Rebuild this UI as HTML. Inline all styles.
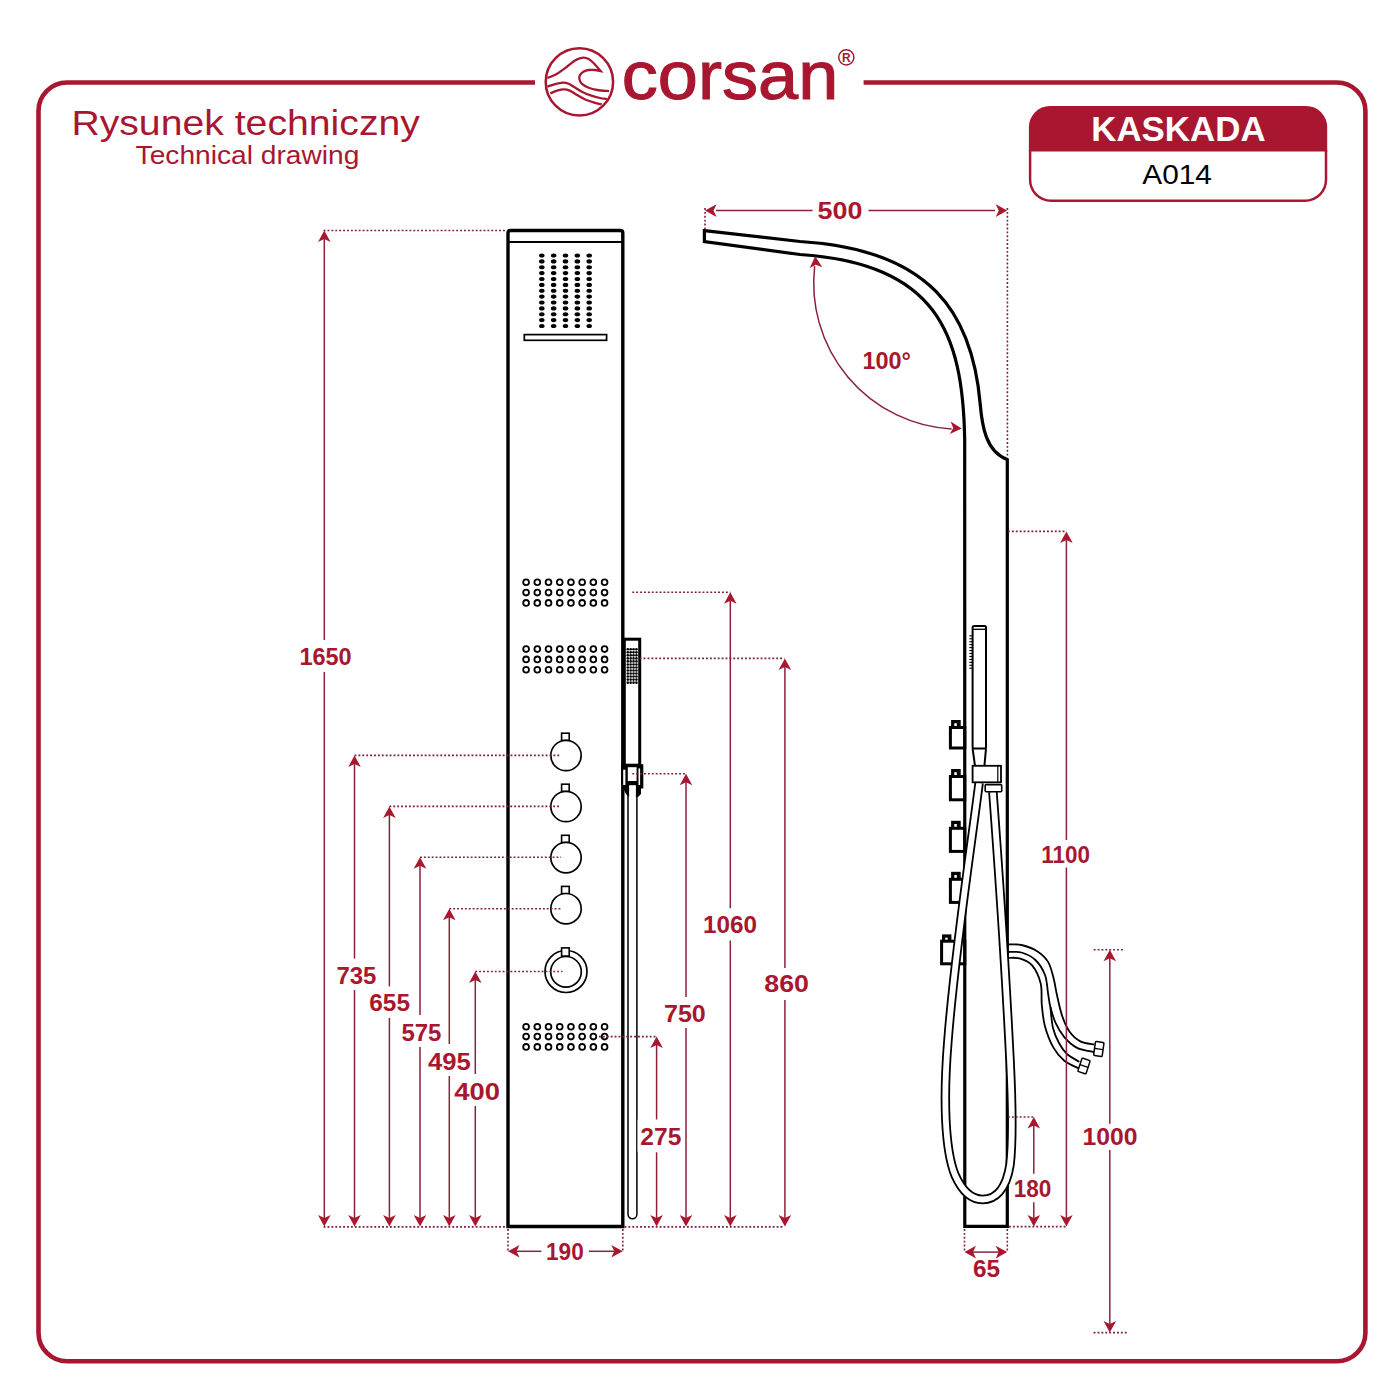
<!DOCTYPE html>
<html><head><meta charset="utf-8"><title>Corsan Kaskada A014</title>
<style>html,body{margin:0;padding:0;background:#fff;width:1400px;height:1400px;overflow:hidden;position:relative;font-family:"Liberation Sans",sans-serif}</style>
</head><body>
<svg width="1400" height="1400" viewBox="0 0 1400 1400" style="position:absolute;left:0;top:0">
<rect width="1400" height="1400" fill="#fff"/>
<path d="M535,82.50 L67.00,82.50 A28.50,28.50 0 0 0 38.50,111.00 L38.50,1332.70 A28.50,28.50 0 0 0 67.00,1361.20 L1336.90,1361.20 A28.50,28.50 0 0 0 1365.40,1332.70 L1365.40,111.00 A28.50,28.50 0 0 0 1336.90,82.50 L863.6,82.50" fill="none" stroke="#A8172F" stroke-width="4.6"/>
<circle cx="579.4" cy="81.9" r="33.7" fill="none" stroke="#A8172F" stroke-width="2.5"/>
<path d="M547.40,78.00 C549.02,77.28 554.05,75.42 557.10,73.70 C560.15,71.98 563.22,69.55 565.70,67.70 C568.18,65.85 570.10,63.98 572.00,62.60 C573.90,61.22 575.20,60.22 577.10,59.40 C579.00,58.58 581.48,57.75 583.40,57.70 C585.32,57.65 586.78,58.10 588.60,59.10 C590.42,60.10 592.30,61.70 594.30,63.70 C596.30,65.70 599.55,69.87 600.60,71.10 L600.60,71.10 C599.65,70.92 596.90,70.18 594.90,70.00 C592.90,69.82 590.52,69.72 588.60,70.00 C586.68,70.28 584.83,70.85 583.40,71.70 C581.97,72.55 580.67,73.87 580.00,75.10 C579.33,76.33 579.12,77.67 579.40,79.10 C579.68,80.53 580.17,82.27 581.70,83.70 C583.23,85.13 586.03,86.65 588.60,87.70 C591.17,88.75 593.68,89.43 597.10,90.00 C600.52,90.57 607.10,90.92 609.10,91.10" fill="none" stroke="#A8172F" stroke-width="2.3" stroke-linejoin="miter" stroke-miterlimit="10"/>
<path d="M547.40,86.60 C548.55,86.22 551.72,84.97 554.30,84.30 C556.88,83.63 560.52,82.70 562.90,82.60 C565.28,82.50 566.70,82.95 568.60,83.70 C570.50,84.45 571.92,85.67 574.30,87.10 C576.68,88.53 580.05,90.87 582.90,92.30 C585.75,93.73 588.55,94.75 591.40,95.70 C594.25,96.65 597.42,97.43 600.00,98.00 C602.58,98.57 605.75,98.92 606.90,99.10" fill="none" stroke="#A8172F" stroke-width="2.3"/>
<path d="M550.30,93.40 C551.43,92.93 554.82,91.27 557.10,90.60 C559.38,89.93 561.90,89.40 564.00,89.40 C566.10,89.40 567.52,89.65 569.70,90.60 C571.88,91.55 574.43,93.58 577.10,95.10 C579.77,96.62 582.83,98.45 585.70,99.70 C588.57,100.95 591.63,101.83 594.30,102.60 C596.97,103.37 600.47,104.02 601.70,104.30" fill="none" stroke="#A8172F" stroke-width="2.3"/>
<text x="621.8" y="98.8" font-family="Liberation Sans" font-size="68.5" fill="#A8172F" stroke="#A8172F" stroke-width="1.1" textLength="216.5" lengthAdjust="spacingAndGlyphs">corsan</text>
<circle cx="846.3" cy="57.3" r="7.6" fill="none" stroke="#A8172F" stroke-width="1.5"/>
<text x="846.4" y="61.7" font-family="Liberation Sans" font-weight="bold" font-size="12" fill="#A8172F" text-anchor="middle">R</text>
<text x="71.40" y="135.30" font-family="Liberation Sans" font-weight="normal" font-size="35.5" fill="#A8172F" textLength="348.50" lengthAdjust="spacingAndGlyphs">Rysunek techniczny</text>
<text x="135.60" y="164.30" font-family="Liberation Sans" font-weight="normal" font-size="25.5" fill="#A8172F" textLength="223.70" lengthAdjust="spacingAndGlyphs">Technical drawing</text>
<path d="M1028.90,151.6 L1028.90,127.00 A21.00,21.00 0 0 1 1049.90,106.00 L1306.20,106.00 A21.00,21.00 0 0 1 1327.20,127.00 L1327.20,151.6 Z" fill="#A8172F"/>
<path d="M1030.10,150 L1030.10,179.70 A21.00,21.00 0 0 0 1051.10,200.70 L1305.00,200.70 A21.00,21.00 0 0 0 1326.00,179.70 L1326.00,150" fill="none" stroke="#A8172F" stroke-width="2.5"/>
<text x="1091.20" y="141.30" font-family="Liberation Sans" font-weight="bold" font-size="34.5" fill="#fff" textLength="174.40" lengthAdjust="spacingAndGlyphs">KASKADA</text>
<text x="1142.30" y="184.10" font-family="Liberation Sans" font-weight="normal" font-size="28" fill="#000" textLength="69.60" lengthAdjust="spacingAndGlyphs">A014</text>
<path d="M508,1226.5 L508,233 Q508,230.5 510.5,230.5 L620.3,230.5 Q622.8,230.5 622.8,233 L622.8,1226.5 Z" fill="none" stroke="#000" stroke-width="3.4"/>
<line x1="508" y1="242" x2="622.8" y2="242" stroke="#000" stroke-width="2.2"/>
<ellipse cx="541.80" cy="255.50" rx="2.75" ry="2.1" fill="#000"/>
<ellipse cx="541.80" cy="261.38" rx="2.75" ry="2.1" fill="#000"/>
<ellipse cx="541.80" cy="267.25" rx="2.75" ry="2.1" fill="#000"/>
<ellipse cx="541.80" cy="273.12" rx="2.75" ry="2.1" fill="#000"/>
<ellipse cx="541.80" cy="279.00" rx="2.75" ry="2.1" fill="#000"/>
<ellipse cx="541.80" cy="284.88" rx="2.75" ry="2.1" fill="#000"/>
<ellipse cx="541.80" cy="290.75" rx="2.75" ry="2.1" fill="#000"/>
<ellipse cx="541.80" cy="296.62" rx="2.75" ry="2.1" fill="#000"/>
<ellipse cx="541.80" cy="302.50" rx="2.75" ry="2.1" fill="#000"/>
<ellipse cx="541.80" cy="308.38" rx="2.75" ry="2.1" fill="#000"/>
<ellipse cx="541.80" cy="314.25" rx="2.75" ry="2.1" fill="#000"/>
<ellipse cx="541.80" cy="320.12" rx="2.75" ry="2.1" fill="#000"/>
<ellipse cx="541.80" cy="326.00" rx="2.75" ry="2.1" fill="#000"/>
<ellipse cx="553.65" cy="255.50" rx="2.75" ry="2.1" fill="#000"/>
<ellipse cx="553.65" cy="261.38" rx="2.75" ry="2.1" fill="#000"/>
<ellipse cx="553.65" cy="267.25" rx="2.75" ry="2.1" fill="#000"/>
<ellipse cx="553.65" cy="273.12" rx="2.75" ry="2.1" fill="#000"/>
<ellipse cx="553.65" cy="279.00" rx="2.75" ry="2.1" fill="#000"/>
<ellipse cx="553.65" cy="284.88" rx="2.75" ry="2.1" fill="#000"/>
<ellipse cx="553.65" cy="290.75" rx="2.75" ry="2.1" fill="#000"/>
<ellipse cx="553.65" cy="296.62" rx="2.75" ry="2.1" fill="#000"/>
<ellipse cx="553.65" cy="302.50" rx="2.75" ry="2.1" fill="#000"/>
<ellipse cx="553.65" cy="308.38" rx="2.75" ry="2.1" fill="#000"/>
<ellipse cx="553.65" cy="314.25" rx="2.75" ry="2.1" fill="#000"/>
<ellipse cx="553.65" cy="320.12" rx="2.75" ry="2.1" fill="#000"/>
<ellipse cx="553.65" cy="326.00" rx="2.75" ry="2.1" fill="#000"/>
<ellipse cx="565.50" cy="255.50" rx="2.75" ry="2.1" fill="#000"/>
<ellipse cx="565.50" cy="261.38" rx="2.75" ry="2.1" fill="#000"/>
<ellipse cx="565.50" cy="267.25" rx="2.75" ry="2.1" fill="#000"/>
<ellipse cx="565.50" cy="273.12" rx="2.75" ry="2.1" fill="#000"/>
<ellipse cx="565.50" cy="279.00" rx="2.75" ry="2.1" fill="#000"/>
<ellipse cx="565.50" cy="284.88" rx="2.75" ry="2.1" fill="#000"/>
<ellipse cx="565.50" cy="290.75" rx="2.75" ry="2.1" fill="#000"/>
<ellipse cx="565.50" cy="296.62" rx="2.75" ry="2.1" fill="#000"/>
<ellipse cx="565.50" cy="302.50" rx="2.75" ry="2.1" fill="#000"/>
<ellipse cx="565.50" cy="308.38" rx="2.75" ry="2.1" fill="#000"/>
<ellipse cx="565.50" cy="314.25" rx="2.75" ry="2.1" fill="#000"/>
<ellipse cx="565.50" cy="320.12" rx="2.75" ry="2.1" fill="#000"/>
<ellipse cx="565.50" cy="326.00" rx="2.75" ry="2.1" fill="#000"/>
<ellipse cx="577.35" cy="255.50" rx="2.75" ry="2.1" fill="#000"/>
<ellipse cx="577.35" cy="261.38" rx="2.75" ry="2.1" fill="#000"/>
<ellipse cx="577.35" cy="267.25" rx="2.75" ry="2.1" fill="#000"/>
<ellipse cx="577.35" cy="273.12" rx="2.75" ry="2.1" fill="#000"/>
<ellipse cx="577.35" cy="279.00" rx="2.75" ry="2.1" fill="#000"/>
<ellipse cx="577.35" cy="284.88" rx="2.75" ry="2.1" fill="#000"/>
<ellipse cx="577.35" cy="290.75" rx="2.75" ry="2.1" fill="#000"/>
<ellipse cx="577.35" cy="296.62" rx="2.75" ry="2.1" fill="#000"/>
<ellipse cx="577.35" cy="302.50" rx="2.75" ry="2.1" fill="#000"/>
<ellipse cx="577.35" cy="308.38" rx="2.75" ry="2.1" fill="#000"/>
<ellipse cx="577.35" cy="314.25" rx="2.75" ry="2.1" fill="#000"/>
<ellipse cx="577.35" cy="320.12" rx="2.75" ry="2.1" fill="#000"/>
<ellipse cx="577.35" cy="326.00" rx="2.75" ry="2.1" fill="#000"/>
<ellipse cx="589.20" cy="255.50" rx="2.75" ry="2.1" fill="#000"/>
<ellipse cx="589.20" cy="261.38" rx="2.75" ry="2.1" fill="#000"/>
<ellipse cx="589.20" cy="267.25" rx="2.75" ry="2.1" fill="#000"/>
<ellipse cx="589.20" cy="273.12" rx="2.75" ry="2.1" fill="#000"/>
<ellipse cx="589.20" cy="279.00" rx="2.75" ry="2.1" fill="#000"/>
<ellipse cx="589.20" cy="284.88" rx="2.75" ry="2.1" fill="#000"/>
<ellipse cx="589.20" cy="290.75" rx="2.75" ry="2.1" fill="#000"/>
<ellipse cx="589.20" cy="296.62" rx="2.75" ry="2.1" fill="#000"/>
<ellipse cx="589.20" cy="302.50" rx="2.75" ry="2.1" fill="#000"/>
<ellipse cx="589.20" cy="308.38" rx="2.75" ry="2.1" fill="#000"/>
<ellipse cx="589.20" cy="314.25" rx="2.75" ry="2.1" fill="#000"/>
<ellipse cx="589.20" cy="320.12" rx="2.75" ry="2.1" fill="#000"/>
<ellipse cx="589.20" cy="326.00" rx="2.75" ry="2.1" fill="#000"/>
<rect x="524.3" y="334.6" width="82.3" height="5.7" fill="none" stroke="#000" stroke-width="1.7"/>
<circle cx="526.10" cy="582.30" r="2.9" fill="none" stroke="#000" stroke-width="1.8"/>
<circle cx="537.31" cy="582.30" r="2.9" fill="none" stroke="#000" stroke-width="1.8"/>
<circle cx="548.52" cy="582.30" r="2.9" fill="none" stroke="#000" stroke-width="1.8"/>
<circle cx="559.73" cy="582.30" r="2.9" fill="none" stroke="#000" stroke-width="1.8"/>
<circle cx="570.94" cy="582.30" r="2.9" fill="none" stroke="#000" stroke-width="1.8"/>
<circle cx="582.15" cy="582.30" r="2.9" fill="none" stroke="#000" stroke-width="1.8"/>
<circle cx="593.36" cy="582.30" r="2.9" fill="none" stroke="#000" stroke-width="1.8"/>
<circle cx="604.57" cy="582.30" r="2.9" fill="none" stroke="#000" stroke-width="1.8"/>
<circle cx="526.10" cy="592.60" r="2.9" fill="none" stroke="#000" stroke-width="1.8"/>
<circle cx="537.31" cy="592.60" r="2.9" fill="none" stroke="#000" stroke-width="1.8"/>
<circle cx="548.52" cy="592.60" r="2.9" fill="none" stroke="#000" stroke-width="1.8"/>
<circle cx="559.73" cy="592.60" r="2.9" fill="none" stroke="#000" stroke-width="1.8"/>
<circle cx="570.94" cy="592.60" r="2.9" fill="none" stroke="#000" stroke-width="1.8"/>
<circle cx="582.15" cy="592.60" r="2.9" fill="none" stroke="#000" stroke-width="1.8"/>
<circle cx="593.36" cy="592.60" r="2.9" fill="none" stroke="#000" stroke-width="1.8"/>
<circle cx="604.57" cy="592.60" r="2.9" fill="none" stroke="#000" stroke-width="1.8"/>
<circle cx="526.10" cy="602.90" r="2.9" fill="none" stroke="#000" stroke-width="1.8"/>
<circle cx="537.31" cy="602.90" r="2.9" fill="none" stroke="#000" stroke-width="1.8"/>
<circle cx="548.52" cy="602.90" r="2.9" fill="none" stroke="#000" stroke-width="1.8"/>
<circle cx="559.73" cy="602.90" r="2.9" fill="none" stroke="#000" stroke-width="1.8"/>
<circle cx="570.94" cy="602.90" r="2.9" fill="none" stroke="#000" stroke-width="1.8"/>
<circle cx="582.15" cy="602.90" r="2.9" fill="none" stroke="#000" stroke-width="1.8"/>
<circle cx="593.36" cy="602.90" r="2.9" fill="none" stroke="#000" stroke-width="1.8"/>
<circle cx="604.57" cy="602.90" r="2.9" fill="none" stroke="#000" stroke-width="1.8"/>
<circle cx="526.10" cy="649.10" r="2.9" fill="none" stroke="#000" stroke-width="1.8"/>
<circle cx="537.31" cy="649.10" r="2.9" fill="none" stroke="#000" stroke-width="1.8"/>
<circle cx="548.52" cy="649.10" r="2.9" fill="none" stroke="#000" stroke-width="1.8"/>
<circle cx="559.73" cy="649.10" r="2.9" fill="none" stroke="#000" stroke-width="1.8"/>
<circle cx="570.94" cy="649.10" r="2.9" fill="none" stroke="#000" stroke-width="1.8"/>
<circle cx="582.15" cy="649.10" r="2.9" fill="none" stroke="#000" stroke-width="1.8"/>
<circle cx="593.36" cy="649.10" r="2.9" fill="none" stroke="#000" stroke-width="1.8"/>
<circle cx="604.57" cy="649.10" r="2.9" fill="none" stroke="#000" stroke-width="1.8"/>
<circle cx="526.10" cy="659.40" r="2.9" fill="none" stroke="#000" stroke-width="1.8"/>
<circle cx="537.31" cy="659.40" r="2.9" fill="none" stroke="#000" stroke-width="1.8"/>
<circle cx="548.52" cy="659.40" r="2.9" fill="none" stroke="#000" stroke-width="1.8"/>
<circle cx="559.73" cy="659.40" r="2.9" fill="none" stroke="#000" stroke-width="1.8"/>
<circle cx="570.94" cy="659.40" r="2.9" fill="none" stroke="#000" stroke-width="1.8"/>
<circle cx="582.15" cy="659.40" r="2.9" fill="none" stroke="#000" stroke-width="1.8"/>
<circle cx="593.36" cy="659.40" r="2.9" fill="none" stroke="#000" stroke-width="1.8"/>
<circle cx="604.57" cy="659.40" r="2.9" fill="none" stroke="#000" stroke-width="1.8"/>
<circle cx="526.10" cy="669.70" r="2.9" fill="none" stroke="#000" stroke-width="1.8"/>
<circle cx="537.31" cy="669.70" r="2.9" fill="none" stroke="#000" stroke-width="1.8"/>
<circle cx="548.52" cy="669.70" r="2.9" fill="none" stroke="#000" stroke-width="1.8"/>
<circle cx="559.73" cy="669.70" r="2.9" fill="none" stroke="#000" stroke-width="1.8"/>
<circle cx="570.94" cy="669.70" r="2.9" fill="none" stroke="#000" stroke-width="1.8"/>
<circle cx="582.15" cy="669.70" r="2.9" fill="none" stroke="#000" stroke-width="1.8"/>
<circle cx="593.36" cy="669.70" r="2.9" fill="none" stroke="#000" stroke-width="1.8"/>
<circle cx="604.57" cy="669.70" r="2.9" fill="none" stroke="#000" stroke-width="1.8"/>
<circle cx="526.10" cy="1026.70" r="2.9" fill="none" stroke="#000" stroke-width="1.8"/>
<circle cx="537.31" cy="1026.70" r="2.9" fill="none" stroke="#000" stroke-width="1.8"/>
<circle cx="548.52" cy="1026.70" r="2.9" fill="none" stroke="#000" stroke-width="1.8"/>
<circle cx="559.73" cy="1026.70" r="2.9" fill="none" stroke="#000" stroke-width="1.8"/>
<circle cx="570.94" cy="1026.70" r="2.9" fill="none" stroke="#000" stroke-width="1.8"/>
<circle cx="582.15" cy="1026.70" r="2.9" fill="none" stroke="#000" stroke-width="1.8"/>
<circle cx="593.36" cy="1026.70" r="2.9" fill="none" stroke="#000" stroke-width="1.8"/>
<circle cx="604.57" cy="1026.70" r="2.9" fill="none" stroke="#000" stroke-width="1.8"/>
<circle cx="526.10" cy="1036.60" r="2.9" fill="none" stroke="#000" stroke-width="1.8"/>
<circle cx="537.31" cy="1036.60" r="2.9" fill="none" stroke="#000" stroke-width="1.8"/>
<circle cx="548.52" cy="1036.60" r="2.9" fill="none" stroke="#000" stroke-width="1.8"/>
<circle cx="559.73" cy="1036.60" r="2.9" fill="none" stroke="#000" stroke-width="1.8"/>
<circle cx="570.94" cy="1036.60" r="2.9" fill="none" stroke="#000" stroke-width="1.8"/>
<circle cx="582.15" cy="1036.60" r="2.9" fill="none" stroke="#000" stroke-width="1.8"/>
<circle cx="593.36" cy="1036.60" r="2.9" fill="none" stroke="#000" stroke-width="1.8"/>
<circle cx="604.57" cy="1036.60" r="2.9" fill="none" stroke="#000" stroke-width="1.8"/>
<circle cx="526.10" cy="1046.90" r="2.9" fill="none" stroke="#000" stroke-width="1.8"/>
<circle cx="537.31" cy="1046.90" r="2.9" fill="none" stroke="#000" stroke-width="1.8"/>
<circle cx="548.52" cy="1046.90" r="2.9" fill="none" stroke="#000" stroke-width="1.8"/>
<circle cx="559.73" cy="1046.90" r="2.9" fill="none" stroke="#000" stroke-width="1.8"/>
<circle cx="570.94" cy="1046.90" r="2.9" fill="none" stroke="#000" stroke-width="1.8"/>
<circle cx="582.15" cy="1046.90" r="2.9" fill="none" stroke="#000" stroke-width="1.8"/>
<circle cx="593.36" cy="1046.90" r="2.9" fill="none" stroke="#000" stroke-width="1.8"/>
<circle cx="604.57" cy="1046.90" r="2.9" fill="none" stroke="#000" stroke-width="1.8"/>
<rect x="561.6" y="733.20" width="7.6" height="7.3" fill="#fff" stroke="#000" stroke-width="1.6"/>
<circle cx="566" cy="755.50" r="15.2" fill="#fff" stroke="#000" stroke-width="1.7"/>
<rect x="561.6" y="784.20" width="7.6" height="7.3" fill="#fff" stroke="#000" stroke-width="1.6"/>
<circle cx="566" cy="806.50" r="15.2" fill="#fff" stroke="#000" stroke-width="1.7"/>
<rect x="561.6" y="835.30" width="7.6" height="7.3" fill="#fff" stroke="#000" stroke-width="1.6"/>
<circle cx="566" cy="857.60" r="15.2" fill="#fff" stroke="#000" stroke-width="1.7"/>
<rect x="561.6" y="886.40" width="7.6" height="7.3" fill="#fff" stroke="#000" stroke-width="1.6"/>
<circle cx="566" cy="908.70" r="15.2" fill="#fff" stroke="#000" stroke-width="1.7"/>
<circle cx="566" cy="971.5" r="21.0" fill="#fff" stroke="#000" stroke-width="1.7"/>
<rect x="561.6" y="947.9" width="7.6" height="8.2" fill="#fff" stroke="#000" stroke-width="1.6"/>
<circle cx="566" cy="971.8" r="15.3" fill="#fff" stroke="#000" stroke-width="1.7"/>
<rect x="624.3" y="639.2" width="15.4" height="126" fill="#fff" stroke="#000" stroke-width="3"/>
<circle cx="627.80" cy="649.30" r="1.3" fill="#000"/>
<circle cx="627.80" cy="652.33" r="1.3" fill="#000"/>
<circle cx="627.80" cy="655.36" r="1.3" fill="#000"/>
<circle cx="627.80" cy="658.39" r="1.3" fill="#000"/>
<circle cx="627.80" cy="661.42" r="1.3" fill="#000"/>
<circle cx="627.80" cy="664.45" r="1.3" fill="#000"/>
<circle cx="627.80" cy="667.48" r="1.3" fill="#000"/>
<circle cx="627.80" cy="670.51" r="1.3" fill="#000"/>
<circle cx="627.80" cy="673.54" r="1.3" fill="#000"/>
<circle cx="627.80" cy="676.57" r="1.3" fill="#000"/>
<circle cx="627.80" cy="679.60" r="1.3" fill="#000"/>
<circle cx="627.80" cy="682.63" r="1.3" fill="#000"/>
<circle cx="630.67" cy="649.30" r="1.3" fill="#000"/>
<circle cx="630.67" cy="652.33" r="1.3" fill="#000"/>
<circle cx="630.67" cy="655.36" r="1.3" fill="#000"/>
<circle cx="630.67" cy="658.39" r="1.3" fill="#000"/>
<circle cx="630.67" cy="661.42" r="1.3" fill="#000"/>
<circle cx="630.67" cy="664.45" r="1.3" fill="#000"/>
<circle cx="630.67" cy="667.48" r="1.3" fill="#000"/>
<circle cx="630.67" cy="670.51" r="1.3" fill="#000"/>
<circle cx="630.67" cy="673.54" r="1.3" fill="#000"/>
<circle cx="630.67" cy="676.57" r="1.3" fill="#000"/>
<circle cx="630.67" cy="679.60" r="1.3" fill="#000"/>
<circle cx="630.67" cy="682.63" r="1.3" fill="#000"/>
<circle cx="633.54" cy="649.30" r="1.3" fill="#000"/>
<circle cx="633.54" cy="652.33" r="1.3" fill="#000"/>
<circle cx="633.54" cy="655.36" r="1.3" fill="#000"/>
<circle cx="633.54" cy="658.39" r="1.3" fill="#000"/>
<circle cx="633.54" cy="661.42" r="1.3" fill="#000"/>
<circle cx="633.54" cy="664.45" r="1.3" fill="#000"/>
<circle cx="633.54" cy="667.48" r="1.3" fill="#000"/>
<circle cx="633.54" cy="670.51" r="1.3" fill="#000"/>
<circle cx="633.54" cy="673.54" r="1.3" fill="#000"/>
<circle cx="633.54" cy="676.57" r="1.3" fill="#000"/>
<circle cx="633.54" cy="679.60" r="1.3" fill="#000"/>
<circle cx="633.54" cy="682.63" r="1.3" fill="#000"/>
<circle cx="636.41" cy="649.30" r="1.3" fill="#000"/>
<circle cx="636.41" cy="652.33" r="1.3" fill="#000"/>
<circle cx="636.41" cy="655.36" r="1.3" fill="#000"/>
<circle cx="636.41" cy="658.39" r="1.3" fill="#000"/>
<circle cx="636.41" cy="661.42" r="1.3" fill="#000"/>
<circle cx="636.41" cy="664.45" r="1.3" fill="#000"/>
<circle cx="636.41" cy="667.48" r="1.3" fill="#000"/>
<circle cx="636.41" cy="670.51" r="1.3" fill="#000"/>
<circle cx="636.41" cy="673.54" r="1.3" fill="#000"/>
<circle cx="636.41" cy="676.57" r="1.3" fill="#000"/>
<circle cx="636.41" cy="679.60" r="1.3" fill="#000"/>
<circle cx="636.41" cy="682.63" r="1.3" fill="#000"/>
<rect x="621.2" y="764.2" width="22.1" height="21" fill="#000"/>
<rect x="638" y="785" width="5.3" height="3.5" fill="#000"/>
<rect x="627.8" y="767.2" width="8.8" height="13.8" fill="#fff"/>
<rect x="623.2" y="769.7" width="2.2" height="15.3" fill="#fff"/>
<rect x="638.5" y="768.4" width="1.6" height="17.2" fill="#fff"/>
<path d="M621.2,785 L629.1,785 L629.1,797 L626,794 L623.5,789 Z" fill="#000"/>
<path d="M635.9,785 L641,785 L641,794 L638,797 L635.9,797 Z" fill="#000"/>
<path d="M628,795 L628,1214.3 A4.45,4.45 0 0 0 636.9,1214.3 L636.9,795" fill="none" stroke="#000" stroke-width="1.5"/>
<line x1="324.30" y1="238.50" x2="324.30" y2="640.00" stroke="#8A2239" stroke-width="1.5"/>
<line x1="324.30" y1="672.00" x2="324.30" y2="1218.50" stroke="#8A2239" stroke-width="1.5"/>
<path d="M324.30,230.50 L330.60,242.00 L324.30,239.00 L318.00,242.00 Z" fill="#A8172F"/>
<path d="M324.30,1226.50 L318.00,1215.00 L324.30,1218.00 L330.60,1215.00 Z" fill="#A8172F"/>
<text x="299.40" y="664.60" font-family="Liberation Sans" font-weight="bold" font-size="24" fill="#A8172F" textLength="52.30" lengthAdjust="spacingAndGlyphs">1650</text>
<line x1="354.50" y1="763.40" x2="354.50" y2="958.60" stroke="#8A2239" stroke-width="1.5"/>
<line x1="354.50" y1="990.00" x2="354.50" y2="1218.50" stroke="#8A2239" stroke-width="1.5"/>
<path d="M354.50,755.40 L360.80,766.90 L354.50,763.90 L348.20,766.90 Z" fill="#A8172F"/>
<path d="M354.50,1226.50 L348.20,1215.00 L354.50,1218.00 L360.80,1215.00 Z" fill="#A8172F"/>
<text x="336.40" y="983.60" font-family="Liberation Sans" font-weight="bold" font-size="24" fill="#A8172F" textLength="40.00" lengthAdjust="spacingAndGlyphs">735</text>
<line x1="389.40" y1="814.40" x2="389.40" y2="986.40" stroke="#8A2239" stroke-width="1.5"/>
<line x1="389.40" y1="1017.90" x2="389.40" y2="1218.50" stroke="#8A2239" stroke-width="1.5"/>
<path d="M389.40,806.40 L395.70,817.90 L389.40,814.90 L383.10,817.90 Z" fill="#A8172F"/>
<path d="M389.40,1226.50 L383.10,1215.00 L389.40,1218.00 L395.70,1215.00 Z" fill="#A8172F"/>
<text x="369.30" y="1011.40" font-family="Liberation Sans" font-weight="bold" font-size="24" fill="#A8172F" textLength="40.70" lengthAdjust="spacingAndGlyphs">655</text>
<line x1="420.00" y1="865.30" x2="420.00" y2="1015.00" stroke="#8A2239" stroke-width="1.5"/>
<line x1="420.00" y1="1047.00" x2="420.00" y2="1218.50" stroke="#8A2239" stroke-width="1.5"/>
<path d="M420.00,857.30 L426.30,868.80 L420.00,865.80 L413.70,868.80 Z" fill="#A8172F"/>
<path d="M420.00,1226.50 L413.70,1215.00 L420.00,1218.00 L426.30,1215.00 Z" fill="#A8172F"/>
<text x="401.40" y="1041.40" font-family="Liberation Sans" font-weight="bold" font-size="24" fill="#A8172F" textLength="40.00" lengthAdjust="spacingAndGlyphs">575</text>
<line x1="449.30" y1="916.70" x2="449.30" y2="1044.00" stroke="#8A2239" stroke-width="1.5"/>
<line x1="449.30" y1="1076.00" x2="449.30" y2="1218.50" stroke="#8A2239" stroke-width="1.5"/>
<path d="M449.30,908.70 L455.60,920.20 L449.30,917.20 L443.00,920.20 Z" fill="#A8172F"/>
<path d="M449.30,1226.50 L443.00,1215.00 L449.30,1218.00 L455.60,1215.00 Z" fill="#A8172F"/>
<text x="427.90" y="1070.00" font-family="Liberation Sans" font-weight="bold" font-size="24" fill="#A8172F" textLength="42.80" lengthAdjust="spacingAndGlyphs">495</text>
<line x1="475.30" y1="979.50" x2="475.30" y2="1074.00" stroke="#8A2239" stroke-width="1.5"/>
<line x1="475.30" y1="1106.00" x2="475.30" y2="1218.50" stroke="#8A2239" stroke-width="1.5"/>
<path d="M475.30,971.50 L481.60,983.00 L475.30,980.00 L469.00,983.00 Z" fill="#A8172F"/>
<path d="M475.30,1226.50 L469.00,1215.00 L475.30,1218.00 L481.60,1215.00 Z" fill="#A8172F"/>
<text x="454.30" y="1100.00" font-family="Liberation Sans" font-weight="bold" font-size="24" fill="#A8172F" textLength="45.70" lengthAdjust="spacingAndGlyphs">400</text>
<rect x="637.6" y="1119.7" width="45" height="32" fill="#fff"/>
<line x1="656.60" y1="1044.60" x2="656.60" y2="1119.50" stroke="#8A2239" stroke-width="1.5"/>
<line x1="656.60" y1="1152.30" x2="656.60" y2="1218.50" stroke="#8A2239" stroke-width="1.5"/>
<path d="M656.60,1036.60 L662.90,1048.10 L656.60,1045.10 L650.30,1048.10 Z" fill="#A8172F"/>
<path d="M656.60,1226.50 L650.30,1215.00 L656.60,1218.00 L662.90,1215.00 Z" fill="#A8172F"/>
<text x="640.30" y="1144.60" font-family="Liberation Sans" font-weight="bold" font-size="24" fill="#A8172F" textLength="41.00" lengthAdjust="spacingAndGlyphs">275</text>
<line x1="686.00" y1="781.70" x2="686.00" y2="997.00" stroke="#8A2239" stroke-width="1.5"/>
<line x1="686.00" y1="1028.00" x2="686.00" y2="1218.50" stroke="#8A2239" stroke-width="1.5"/>
<path d="M686.00,773.70 L692.30,785.20 L686.00,782.20 L679.70,785.20 Z" fill="#A8172F"/>
<path d="M686.00,1226.50 L679.70,1215.00 L686.00,1218.00 L692.30,1215.00 Z" fill="#A8172F"/>
<text x="664.00" y="1022.10" font-family="Liberation Sans" font-weight="bold" font-size="24" fill="#A8172F" textLength="41.80" lengthAdjust="spacingAndGlyphs">750</text>
<line x1="730.30" y1="600.20" x2="730.30" y2="908.30" stroke="#8A2239" stroke-width="1.5"/>
<line x1="730.30" y1="940.50" x2="730.30" y2="1218.50" stroke="#8A2239" stroke-width="1.5"/>
<path d="M730.30,592.20 L736.60,603.70 L730.30,600.70 L724.00,603.70 Z" fill="#A8172F"/>
<path d="M730.30,1226.50 L724.00,1215.00 L730.30,1218.00 L736.60,1215.00 Z" fill="#A8172F"/>
<text x="702.90" y="932.80" font-family="Liberation Sans" font-weight="bold" font-size="24" fill="#A8172F" textLength="54.00" lengthAdjust="spacingAndGlyphs">1060</text>
<line x1="784.90" y1="666.40" x2="784.90" y2="968.00" stroke="#8A2239" stroke-width="1.5"/>
<line x1="784.90" y1="1000.00" x2="784.90" y2="1218.50" stroke="#8A2239" stroke-width="1.5"/>
<path d="M784.90,658.40 L791.20,669.90 L784.90,666.90 L778.60,669.90 Z" fill="#A8172F"/>
<path d="M784.90,1226.50 L778.60,1215.00 L784.90,1218.00 L791.20,1215.00 Z" fill="#A8172F"/>
<text x="764.30" y="992.20" font-family="Liberation Sans" font-weight="bold" font-size="24" fill="#A8172F" textLength="44.70" lengthAdjust="spacingAndGlyphs">860</text>
<line x1="516.00" y1="1251.30" x2="541.40" y2="1251.30" stroke="#8A2239" stroke-width="1.5"/>
<line x1="588.90" y1="1251.30" x2="614.60" y2="1251.30" stroke="#8A2239" stroke-width="1.5"/>
<path d="M508.00,1251.30 L519.50,1245.00 L516.50,1251.30 L519.50,1257.60 Z" fill="#A8172F"/>
<path d="M622.80,1251.30 L611.30,1257.60 L614.30,1251.30 L611.30,1245.00 Z" fill="#A8172F"/>
<text x="546.00" y="1259.60" font-family="Liberation Sans" font-weight="bold" font-size="24" fill="#A8172F" textLength="37.70" lengthAdjust="spacingAndGlyphs">190</text>
<rect x="951.1" y="720.00" width="9.6" height="8.5" fill="#000"/>
<rect x="954.3" y="723.20" width="2.5" height="4.3" fill="#fff"/>
<rect x="950.4" y="727.50" width="14.4" height="20.50" fill="#fff" stroke="#000" stroke-width="3"/>
<rect x="951.1" y="769.00" width="9.6" height="8.5" fill="#000"/>
<rect x="954.3" y="772.20" width="2.5" height="4.3" fill="#fff"/>
<rect x="950.4" y="776.50" width="14.4" height="23.30" fill="#fff" stroke="#000" stroke-width="3"/>
<rect x="951.1" y="820.80" width="9.6" height="8.5" fill="#000"/>
<rect x="954.3" y="824.00" width="2.5" height="4.3" fill="#fff"/>
<rect x="950.4" y="828.30" width="14.4" height="23.10" fill="#fff" stroke="#000" stroke-width="3"/>
<rect x="951.1" y="871.80" width="9.6" height="8.5" fill="#000"/>
<rect x="954.3" y="875.00" width="2.5" height="4.3" fill="#fff"/>
<rect x="950.4" y="879.30" width="14.4" height="23.10" fill="#fff" stroke="#000" stroke-width="3"/>
<rect x="942.0" y="934.4" width="9.4" height="8.3" fill="#000"/>
<rect x="945.2" y="937.7" width="2.5" height="4.3" fill="#fff"/>
<rect x="941.6" y="941.2" width="23.2" height="22.6" fill="#fff" stroke="#000" stroke-width="3"/>
<path d="M704.4,230.7 L800,241.5 C930.2,249.3 972.3,312.8 980.2,404 C982,425 985.5,451.5 1007.3,459.5 L1007.3,1226.4 L964.8,1226.4 L964.7,440 C962.9,331.3 935.4,264.1 800,254.5 L704.4,241.7 Z" fill="none" stroke="#000" stroke-width="3.2" stroke-linejoin="miter"/>
<rect x="972.6" y="626" width="13.4" height="122.5" rx="1.5" fill="#fff" stroke="#000" stroke-width="2"/>
<line x1="972.6" y1="629.3" x2="986" y2="629.3" stroke="#000" stroke-width="1.3"/>
<line x1="969.3" y1="635.80" x2="972.6" y2="635.80" stroke="#000" stroke-width="1.1"/>
<line x1="969.3" y1="638.75" x2="972.6" y2="638.75" stroke="#000" stroke-width="1.1"/>
<line x1="969.3" y1="641.70" x2="972.6" y2="641.70" stroke="#000" stroke-width="1.1"/>
<line x1="969.3" y1="644.65" x2="972.6" y2="644.65" stroke="#000" stroke-width="1.1"/>
<line x1="969.3" y1="647.60" x2="972.6" y2="647.60" stroke="#000" stroke-width="1.1"/>
<line x1="969.3" y1="650.55" x2="972.6" y2="650.55" stroke="#000" stroke-width="1.1"/>
<line x1="969.3" y1="653.50" x2="972.6" y2="653.50" stroke="#000" stroke-width="1.1"/>
<line x1="969.3" y1="656.45" x2="972.6" y2="656.45" stroke="#000" stroke-width="1.1"/>
<line x1="969.3" y1="659.40" x2="972.6" y2="659.40" stroke="#000" stroke-width="1.1"/>
<line x1="969.3" y1="662.35" x2="972.6" y2="662.35" stroke="#000" stroke-width="1.1"/>
<line x1="969.3" y1="665.30" x2="972.6" y2="665.30" stroke="#000" stroke-width="1.1"/>
<line x1="969.3" y1="668.25" x2="972.6" y2="668.25" stroke="#000" stroke-width="1.1"/>
<path d="M972.6,748.5 L975,766 M986,748.5 L984.4,766" fill="none" stroke="#000" stroke-width="2"/>
<path d="M979.1,783 C972,840 955,950 948,1040 C943,1100 945,1150 955,1175 C963,1193 973,1199.5 982.7,1199.5 C995,1199.5 1006,1190 1010,1165 C1013,1140 1012,1100 1010,1060 C1006,980 998,860 992.9,792" fill="none" stroke="#000" stroke-width="9.4"/>
<path d="M979.1,783 C972,840 955,950 948,1040 C943,1100 945,1150 955,1175 C963,1193 973,1199.5 982.7,1199.5 C995,1199.5 1006,1190 1010,1165 C1013,1140 1012,1100 1010,1060 C1006,980 998,860 992.9,792" fill="none" stroke="#fff" stroke-width="5.8"/>
<rect x="972.6" y="765.8" width="28.4" height="16.5" fill="#fff" stroke="#000" stroke-width="1.8"/>
<line x1="997.8" y1="765.8" x2="997.8" y2="782.3" stroke="#000" stroke-width="1.2"/>
<rect x="985.2" y="784.6" width="16.5" height="7.1" rx="1" fill="#fff" stroke="#000" stroke-width="1.6"/>
<path d="M1008.00,944.50 C1010.23,944.58 1016.48,943.85 1021.40,945.00 C1026.32,946.15 1033.03,948.55 1037.50,951.40 C1041.97,954.25 1045.52,957.63 1048.20,962.10 C1050.88,966.57 1052.17,972.83 1053.60,978.20 C1055.03,983.57 1055.38,988.05 1056.80,994.30 C1058.22,1000.55 1059.97,1009.45 1062.10,1015.70 C1064.23,1021.95 1066.55,1027.52 1069.60,1031.80 C1072.65,1036.08 1076.28,1039.27 1080.40,1041.40 C1084.52,1043.53 1091.98,1044.07 1094.30,1044.60" fill="none" stroke="#000" stroke-width="1.8"/>
<path d="M1008.00,952.00 C1010.23,952.08 1016.83,951.17 1021.40,952.50 C1025.97,953.83 1031.47,956.25 1035.40,960.00 C1039.33,963.75 1042.87,969.28 1045.00,975.00 C1047.13,980.72 1047.30,988.95 1048.20,994.30 C1049.10,999.65 1049.15,1002.28 1050.40,1007.10 C1051.65,1011.92 1053.38,1018.20 1055.70,1023.20 C1058.02,1028.20 1060.73,1032.98 1064.30,1037.10 C1067.87,1041.22 1072.10,1045.40 1077.10,1047.90 C1082.10,1050.40 1091.43,1051.40 1094.30,1052.10" fill="none" stroke="#000" stroke-width="1.8"/>
<path d="M1008.00,957.90 C1009.88,957.98 1015.28,957.15 1019.30,958.40 C1023.32,959.65 1028.53,961.20 1032.10,965.40 C1035.67,969.60 1039.08,977.00 1040.70,983.60 C1042.32,990.20 1041.08,997.87 1041.80,1005.00 C1042.52,1012.13 1043.03,1019.25 1045.00,1026.40 C1046.97,1033.55 1050.38,1042.18 1053.60,1047.90 C1056.82,1053.62 1060.20,1057.32 1064.30,1060.70 C1068.40,1064.08 1075.88,1066.95 1078.20,1068.20" fill="none" stroke="#000" stroke-width="1.8"/>
<path d="M1050.40,1007.10 C1050.83,1010.58 1051.57,1022.02 1053.00,1028.00 C1054.43,1033.98 1056.67,1038.67 1059.00,1043.00 C1061.33,1047.33 1063.62,1050.87 1067.00,1054.00 C1070.38,1057.13 1077.25,1060.50 1079.30,1061.80" fill="none" stroke="#000" stroke-width="1.8"/>
<g transform="translate(1098.8,1049) rotate(8)"><rect x="-4.3" y="-7" width="8.6" height="14" rx="1" fill="#fff" stroke="#000" stroke-width="1.5"/><line x1="-4.3" y1="0" x2="4.3" y2="0" stroke="#000" stroke-width="1.2"/></g>
<g transform="translate(1084,1066) rotate(18)"><rect x="-4.3" y="-7" width="8.6" height="14" rx="1" fill="#fff" stroke="#000" stroke-width="1.5"/><line x1="-4.3" y1="0" x2="4.3" y2="0" stroke="#000" stroke-width="1.2"/></g>
<line x1="716.00" y1="210.60" x2="812.60" y2="210.60" stroke="#8A2239" stroke-width="1.5"/>
<line x1="868.50" y1="210.60" x2="995.00" y2="210.60" stroke="#8A2239" stroke-width="1.5"/>
<path d="M705.00,210.60 L716.50,204.30 L713.50,210.60 L716.50,216.90 Z" fill="#A8172F"/>
<path d="M1007.20,210.60 L995.70,216.90 L998.70,210.60 L995.70,204.30 Z" fill="#A8172F"/>
<text x="817.50" y="218.70" font-family="Liberation Sans" font-weight="bold" font-size="24" fill="#A8172F" textLength="44.90" lengthAdjust="spacingAndGlyphs">500</text>
<path d="M814.67,266.14 A146.30,146.30 0 0 0 951.67,429.06" fill="none" stroke="#8A2038" stroke-width="1.5"/>
<path d="M815.20,256.20 L822.29,267.23 L815.79,264.68 L809.72,268.11 Z" fill="#A8172F"/>
<path d="M961.70,428.50 L949.84,434.10 L953.22,427.99 L950.60,421.52 Z" fill="#A8172F"/>
<text x="862.40" y="368.50" font-family="Liberation Sans" font-weight="bold" font-size="24" fill="#A8172F" textLength="48.60" lengthAdjust="spacingAndGlyphs">100°</text>
<line x1="1066.40" y1="539.40" x2="1066.40" y2="840.00" stroke="#8A2239" stroke-width="1.5"/>
<line x1="1066.40" y1="867.50" x2="1066.40" y2="1218.50" stroke="#8A2239" stroke-width="1.5"/>
<path d="M1066.40,531.40 L1072.70,542.90 L1066.40,539.90 L1060.10,542.90 Z" fill="#A8172F"/>
<path d="M1066.40,1226.50 L1060.10,1215.00 L1066.40,1218.00 L1072.70,1215.00 Z" fill="#A8172F"/>
<text x="1041.30" y="863.00" font-family="Liberation Sans" font-weight="bold" font-size="24" fill="#A8172F" textLength="48.70" lengthAdjust="spacingAndGlyphs">1100</text>
<line x1="1109.80" y1="957.70" x2="1109.80" y2="1123.80" stroke="#8A2239" stroke-width="1.5"/>
<line x1="1109.80" y1="1150.00" x2="1109.80" y2="1324.60" stroke="#8A2239" stroke-width="1.5"/>
<path d="M1109.80,949.70 L1116.10,961.20 L1109.80,958.20 L1103.50,961.20 Z" fill="#A8172F"/>
<path d="M1109.80,1332.60 L1103.50,1321.10 L1109.80,1324.10 L1116.10,1321.10 Z" fill="#A8172F"/>
<text x="1082.50" y="1145.00" font-family="Liberation Sans" font-weight="bold" font-size="24" fill="#A8172F" textLength="55.00" lengthAdjust="spacingAndGlyphs">1000</text>
<line x1="1033.80" y1="1125.00" x2="1033.80" y2="1173.70" stroke="#8A2239" stroke-width="1.5"/>
<line x1="1033.80" y1="1202.30" x2="1033.80" y2="1218.50" stroke="#8A2239" stroke-width="1.5"/>
<path d="M1033.80,1117.00 L1040.10,1128.50 L1033.80,1125.50 L1027.50,1128.50 Z" fill="#A8172F"/>
<path d="M1033.80,1226.50 L1027.50,1215.00 L1033.80,1218.00 L1040.10,1215.00 Z" fill="#A8172F"/>
<text x="1013.70" y="1197.00" font-family="Liberation Sans" font-weight="bold" font-size="24" fill="#A8172F" textLength="37.70" lengthAdjust="spacingAndGlyphs">180</text>
<line x1="972.00" y1="1252.10" x2="999.50" y2="1252.10" stroke="#8A2239" stroke-width="1.5"/>
<path d="M964.50,1252.10 L976.00,1245.80 L973.00,1252.10 L976.00,1258.40 Z" fill="#A8172F"/>
<path d="M1007.20,1252.10 L995.70,1258.40 L998.70,1252.10 L995.70,1245.80 Z" fill="#A8172F"/>
<text x="972.90" y="1277.10" font-family="Liberation Sans" font-weight="bold" font-size="24" fill="#A8172F" textLength="27.10" lengthAdjust="spacingAndGlyphs">65</text>
<line x1="323.60" y1="230.50" x2="508.00" y2="230.50" stroke="#7E2040" stroke-width="1.6" stroke-dasharray="1.9 2.0"/>
<line x1="323.60" y1="1226.90" x2="506.50" y2="1226.90" stroke="#7E2040" stroke-width="1.6" stroke-dasharray="1.9 2.0"/>
<line x1="624.50" y1="1226.90" x2="784.30" y2="1226.90" stroke="#7E2040" stroke-width="1.6" stroke-dasharray="1.9 2.0"/>
<line x1="354.50" y1="755.40" x2="560.30" y2="755.40" stroke="#7E2040" stroke-width="1.6" stroke-dasharray="1.9 2.0"/>
<line x1="389.40" y1="806.40" x2="560.30" y2="806.40" stroke="#7E2040" stroke-width="1.6" stroke-dasharray="1.9 2.0"/>
<line x1="420.00" y1="857.30" x2="561.00" y2="857.30" stroke="#7E2040" stroke-width="1.6" stroke-dasharray="1.9 2.0"/>
<line x1="449.30" y1="908.70" x2="561.00" y2="908.70" stroke="#7E2040" stroke-width="1.6" stroke-dasharray="1.9 2.0"/>
<line x1="475.30" y1="971.50" x2="562.50" y2="971.50" stroke="#7E2040" stroke-width="1.6" stroke-dasharray="1.9 2.0"/>
<line x1="599.00" y1="1036.60" x2="656.60" y2="1036.60" stroke="#7E2040" stroke-width="1.6" stroke-dasharray="1.9 2.0"/>
<line x1="632.30" y1="773.70" x2="685.70" y2="773.70" stroke="#7E2040" stroke-width="1.6" stroke-dasharray="1.9 2.0"/>
<line x1="632.30" y1="592.20" x2="730.30" y2="592.20" stroke="#7E2040" stroke-width="1.6" stroke-dasharray="1.9 2.0"/>
<line x1="639.70" y1="658.40" x2="784.30" y2="658.40" stroke="#7E2040" stroke-width="1.6" stroke-dasharray="1.9 2.0"/>
<line x1="508.00" y1="1229.00" x2="508.00" y2="1251.00" stroke="#7E2040" stroke-width="1.6" stroke-dasharray="1.9 2.0"/>
<line x1="622.80" y1="1229.00" x2="622.80" y2="1251.00" stroke="#7E2040" stroke-width="1.6" stroke-dasharray="1.9 2.0"/>
<line x1="705.00" y1="208.00" x2="705.00" y2="229.00" stroke="#7E2040" stroke-width="1.6" stroke-dasharray="1.9 2.0"/>
<line x1="1007.40" y1="208.00" x2="1007.40" y2="457.00" stroke="#7E2040" stroke-width="1.6" stroke-dasharray="1.9 2.0"/>
<line x1="1008.00" y1="531.40" x2="1066.40" y2="531.40" stroke="#7E2040" stroke-width="1.6" stroke-dasharray="1.9 2.0"/>
<line x1="1093.70" y1="949.70" x2="1125.00" y2="949.70" stroke="#7E2040" stroke-width="1.6" stroke-dasharray="1.9 2.0"/>
<line x1="1093.60" y1="1332.60" x2="1127.00" y2="1332.60" stroke="#7E2040" stroke-width="1.6" stroke-dasharray="1.9 2.0"/>
<line x1="1008.00" y1="1117.00" x2="1034.00" y2="1117.00" stroke="#7E2040" stroke-width="1.6" stroke-dasharray="1.9 2.0"/>
<line x1="1009.00" y1="1226.60" x2="1066.40" y2="1226.60" stroke="#7E2040" stroke-width="1.6" stroke-dasharray="1.9 2.0"/>
<line x1="964.50" y1="1229.00" x2="964.50" y2="1252.00" stroke="#7E2040" stroke-width="1.6" stroke-dasharray="1.9 2.0"/>
<line x1="1007.30" y1="1229.00" x2="1007.30" y2="1252.00" stroke="#7E2040" stroke-width="1.6" stroke-dasharray="1.9 2.0"/>
</svg>
</body></html>
